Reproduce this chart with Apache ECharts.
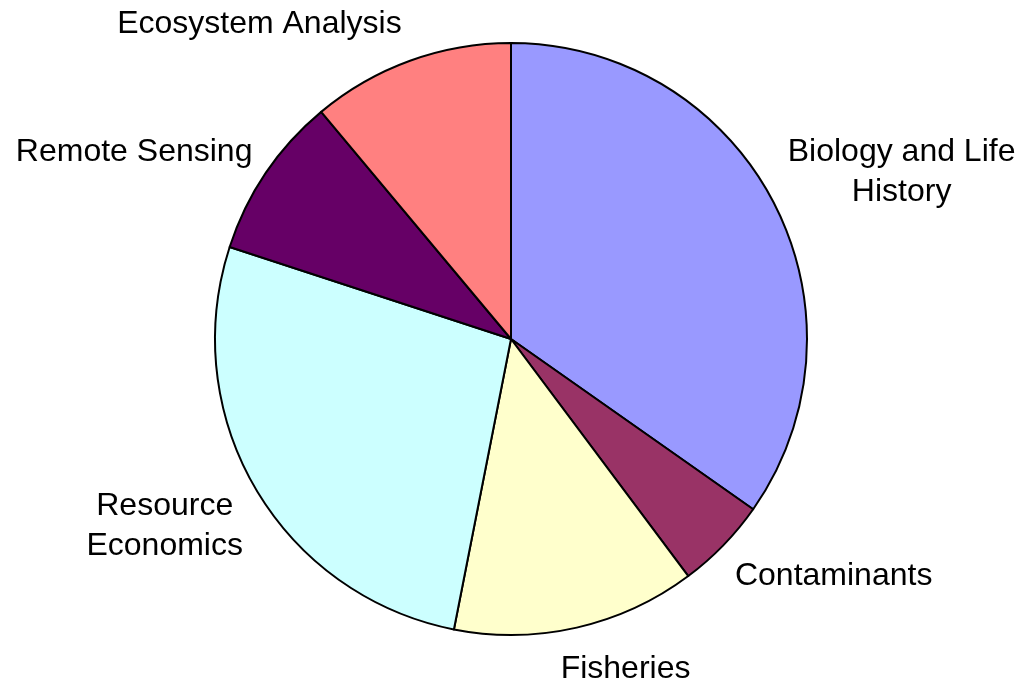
<!DOCTYPE html>
<html>
<head>
<meta charset="utf-8">
<script src="https://cdn.jsdelivr.net/npm/echarts@6/dist/echarts.min.js"></script>
<style>
html,body{margin:0;padding:0;background:#fff;}
#chart{width:1025px;height:683px;}
</style>
</head>
<body>
<div id="chart"></div>
<script>
// Data (share of the pie, %)
const categories = ['Biology and Life\nHistory', 'Contaminants', 'Fisheries', 'Resource\nEconomics', 'Remote Sensing', 'Ecosystem Analysis'];
const values = [34.75, 5.03, 13.31, 26.94, 8.89, 11.08];
const colors = ['#9999FF', '#993366', '#FFFFCC', '#CCFFFF', '#660066', '#FF8080'];

const CX = 511, CY = 339, RADIUS = 296, GAP = 12;
const total = values.reduce((a, b) => a + b, 0);
const cum = [];
values.reduce((acc, v, i) => { cum[i] = acc; return acc + v; }, 0);

const chart = echarts.init(document.getElementById('chart'), null, {renderer: 'canvas'});
chart.setOption({
  animation: false,
  backgroundColor: '#ffffff',
  series: [{
    type: 'pie',
    center: [CX, CY],
    radius: [0, RADIUS],
    startAngle: 90,
    clockwise: true,
    avoidLabelOverlap: false,
    data: categories.map((name, i) => ({
      name: name,
      value: values[i],
      itemStyle: {color: colors[i]}
    })),
    itemStyle: {borderColor: '#000000', borderWidth: 2},
    label: {
      show: true,
      position: 'outside',
      formatter: '{b}',
      color: '#000000',
      fontFamily: '"Liberation Sans", Arial, sans-serif',
      fontSize: 32,
      lineHeight: 40,
      align: 'center'
    },
    labelLine: {show: false, length: 5, length2: 0},
    emphasis: {disabled: true},
    labelLayout: function (p) {
      const i = p.dataIndex;
      const mid = (cum[i] + values[i] / 2) / total * 2 * Math.PI;
      const s = Math.sin(mid), c = Math.cos(mid);
      const R = RADIUS + GAP;
      const px = CX + R * s, py = CY - R * c;
      const w = p.labelRect.width, h = p.labelRect.height;
      const fx = Math.min(1.03, 3.2 * Math.abs(s));
      const fy = 1.45 * Math.abs(c);
      return {
        x: px + Math.sign(s) * fx * w / 2,
        y: py - Math.sign(c) * fy * h / 2 + 2,
        align: 'center',
        verticalAlign: 'middle'
      };
    }
  }]
});
</script>
</body>
</html>
